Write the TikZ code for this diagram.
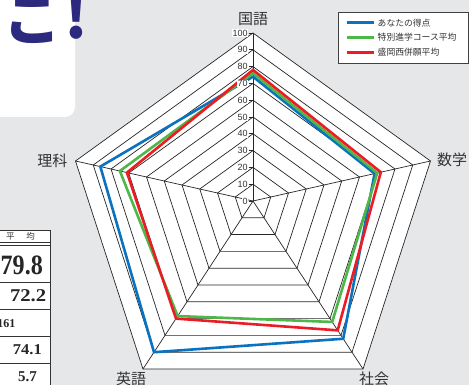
\documentclass[tikz,border=0pt]{standalone}
\usepackage{fontspec}
\newfontfamily\cjk{Noto Sans CJK JP}
\newfontfamily\sansf{Liberation Sans}
\newfontfamily\seriff{Liberation Serif}
\usetikzlibrary{calc}
\definecolor{bggray}{HTML}{E6E7E9}
\definecolor{navy}{HTML}{2B2A7E}
\definecolor{cblue}{HTML}{0A72BE}
\definecolor{cgreen}{HTML}{4DB848}
\definecolor{cred}{HTML}{EC1C24}
\definecolor{txt}{HTML}{333333}
\tikzset{
  ring/.style={draw=black!85, line width=0.7pt},
  tline/.style={draw=black!80, line width=0.7pt},
  dataline/.style={line width=2.6pt, line join=miter},
  axlabel/.style={text=txt, font=\cjk\fontsize{15}{15}\selectfont, inner sep=0pt},
  ticklabel/.style={text=txt, font=\sansf\fontsize{9}{9}\selectfont, fill=white, inner sep=0.6pt, anchor=east},
  legtext/.style={text=txt, font=\cjk\fontsize{8.8}{9}\selectfont, inner sep=0pt, anchor=west},
  tabnum/.style={text=black!85, font=\seriff\bfseries, inner sep=0pt}
}
\begin{document}
\begin{tikzpicture}[x=1pt,y=-1pt]
\useasboundingbox (0,0) rectangle (469,385);
\fill[bggray] (0,0) rectangle (469,385);

% top-left white box with heading fragment
\fill[white, rounded corners=10pt] (-20,-20) rectangle (75,117);
\node[text=navy, font=\cjk\bfseries\fontsize{58}{58}\selectfont, inner sep=0pt, anchor=base] (ko) at (33,40.5) {こ};
\node[text=navy, font=\cjk\bfseries\fontsize{60}{60}\selectfont, inner sep=0pt, anchor=base] (excl) at (76,38.5) {!};

% table fragment
\fill[white] (-5,230) rectangle (50,390);
\draw[tline] (-5,230) -- (50,230);
\draw[tline] (-5,242.7) -- (50,242.7);
\draw[tline] (-5,244.9) -- (50,244.9);
\draw[tline] (-5,282) -- (50,282);
\draw[tline] (-5,309) -- (50,309);
\draw[tline] (-5,336.7) -- (50,336.7);
\draw[tline] (-5,363.3) -- (50,363.3);
\draw[tline] (50,230) -- (50,390);
\node[text=txt, font=\cjk\fontsize{8.5}{8.5}\selectfont, inner sep=0pt] (hd) at (20.5,236.3) {平\hspace{1.4em}均};
\node[tabnum, font=\seriff\bfseries\fontsize{28}{28}\selectfont, xscale=0.86, anchor=east] (r1) at (43,265) {79.8};
\node[tabnum, font=\seriff\bfseries\fontsize{18}{18}\selectfont, xscale=1.15, anchor=east] (r2) at (46.5,296) {72.2};
\node[tabnum, font=\seriff\bfseries\fontsize{12}{12}\selectfont, anchor=east] (r3) at (15.5,324) {161};
\node[tabnum, font=\seriff\bfseries\fontsize{15}{15}\selectfont, xscale=1.1, anchor=east] (r4) at (42,350) {74.1};
\node[tabnum, font=\seriff\bfseries\fontsize{15}{15}\selectfont, anchor=east] (r5) at (37,377) {5.7};

% radar chart
\coordinate (P) at (253,201);
\coordinate (A1) at (253,33);
\coordinate (A2) at (430.5,161);
\coordinate (A3) at (363,369);
\coordinate (A4) at (143,369);
\coordinate (A5) at (75.5,161);
\fill[white] (A1) -- (A2) -- (A3) -- (A4) -- (A5) -- cycle;
\foreach \k in {1,...,10}{
  \pgfmathsetmacro\s{\k/10}
  \draw[ring] ($(P)!\s!(A1)$) -- ($(P)!\s!(A2)$) -- ($(P)!\s!(A3)$) -- ($(P)!\s!(A4)$) -- ($(P)!\s!(A5)$) -- cycle;
}
\foreach \i in {1,...,5}{ \draw[ring] (P) -- (A\i); }

% data
\draw[dataline, cblue] ($(P)!0.74!(A1)$) -- ($(P)!0.685!(A2)$) -- ($(P)!0.82!(A3)$) -- ($(P)!0.90!(A4)$) -- ($(P)!0.86!(A5)$) -- cycle;
\draw[dataline, cgreen] ($(P)!0.76!(A1)$) -- ($(P)!0.70!(A2)$) -- ($(P)!0.72!(A3)$) -- ($(P)!0.685!(A4)$) -- ($(P)!0.75!(A5)$) -- cycle;
\draw[dataline, cred] ($(P)!0.78!(A1)$) -- ($(P)!0.72!(A2)$) -- ($(P)!0.77!(A3)$) -- ($(P)!0.70!(A4)$) -- ($(P)!0.71!(A5)$) -- cycle;

% ticks and labels
\foreach \k in {0,...,10}{
  \pgfmathsetmacro\yy{201-16.8*\k}
  \pgfmathtruncatemacro\lab{10*\k}
  \draw[ring] (248.5,\yy) -- (253,\yy);
  \node[ticklabel] (t\k) at (248.5,\yy) {\lab};
}

% axis labels
\node[axlabel] (kokugo) at (253,19) {国語};
\node[axlabel] (sugaku) at (452,160) {数学};
\node[axlabel] (shakai) at (374,379) {社会};
\node[axlabel] (eigo) at (131,379) {英語};
\node[axlabel] (rika) at (52.5,161) {理科};

% legend
\draw[draw=black!75, line width=0.6pt, fill=white] (338,12) rectangle (468,63);
\coordinate (l1a) at (347,22.7); \coordinate (l1b) at (374,22.7);
\coordinate (l2a) at (347,37.3); \coordinate (l2b) at (374,37.3);
\coordinate (l3a) at (347,52.3); \coordinate (l3b) at (374,52.3);
\draw[cblue, line width=2.6pt] (l1a) -- (l1b);
\draw[cgreen, line width=2.6pt] (l2a) -- (l2b);
\draw[cred, line width=2.6pt] (l3a) -- (l3b);
\node[legtext] (lg1) at (377.5,22.7) {あなたの得点};
\node[legtext] (lg2) at (377.5,37.3) {特別進学コース平均};
\node[legtext] (lg3) at (377.5,52.3) {盛岡西併願平均};
\end{tikzpicture}
\end{document}
